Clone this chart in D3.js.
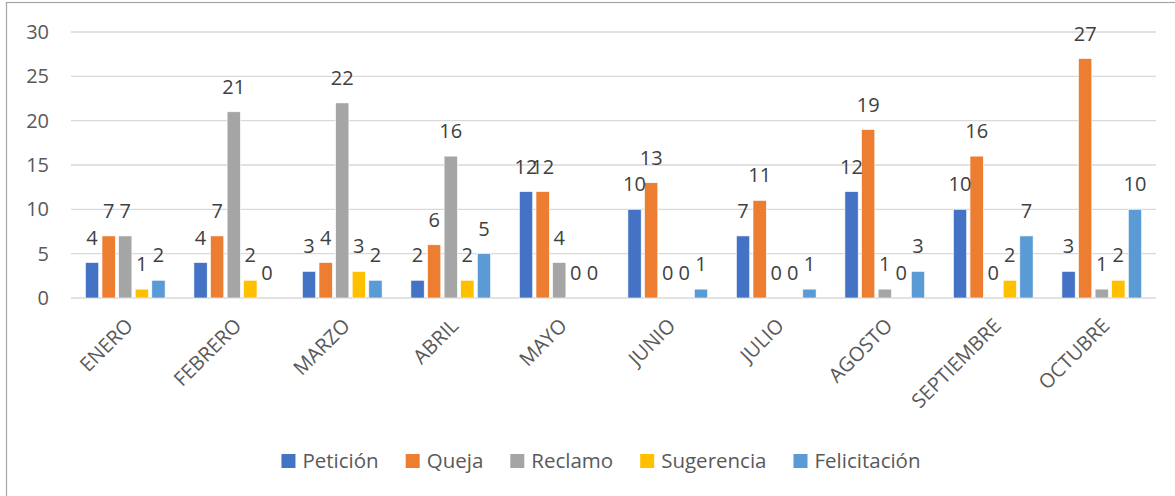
<!DOCTYPE html>
<html>
<head>
<meta charset="utf-8">
<script src="https://cdn.jsdelivr.net/npm/d3@7/dist/d3.min.js"></script>
<style>
  body { margin: 0; background: #fff; }
  svg { display: block; font-family: "Open Sans", sans-serif; }
</style>
</head>
<body>
<div id="chart"></div>
<script>
var months = ['ENERO', 'FEBRERO', 'MARZO', 'ABRIL', 'MAYO', 'JUNIO', 'JULIO', 'AGOSTO', 'SEPTIEMBRE', 'OCTUBRE'];
var seriesNames = ['Petición', 'Queja', 'Reclamo', 'Sugerencia', 'Felicitación'];
var seriesColors = ['#4472C4', '#ED7D31', '#A5A5A5', '#FFC000', '#5B9BD5'];

var peticion = [4, 4, 3, 2, 12, 10, 7, 12, 10, 3];
var queja = [7, 7, 4, 6, 12, 13, 11, 19, 16, 27];
var reclamo = [7, 21, 22, 16, 4, 0, 0, 1, 0, 1];
var sugerencia = [1, 2, 3, 2, 0, 0, 0, 0, 2, 2];
var felicitacion = [2, 0, 2, 5, 0, 1, 1, 3, 7, 10];

var yTicks = [0, 5, 10, 15, 20, 25, 30];

var width = 1175, height = 496;
var plot = { left: 71, right: 1156, top: 32, bottom: 298 };

var allSeries = [peticion, queja, reclamo, sugerencia, felicitacion];

// table of rows per month
var rows = months.map(function (m, i) {
  return {
    month: m,
    values: seriesNames.map(function (s, j) {
      return { key: s, color: seriesColors[j], value: allSeries[j][i] };
    })
  };
});

var svg = d3.select('#chart')
  .append('svg')
  .attr('width', width)
  .attr('height', height);

// chart border
svg.append('rect')
  .attr('x', 6.5)
  .attr('y', 2.5)
  .attr('width', width + 20)
  .attr('height', height + 20)
  .attr('fill', 'none')
  .attr('stroke', '#a6a6a6')
  .attr('stroke-width', 1.2);

var x0 = d3.scaleBand()
  .domain(months)
  .range([plot.left, plot.right])
  .paddingInner(0.235)
  .paddingOuter(0.1175);

var x1 = d3.scaleBand()
  .domain(seriesNames)
  .range([0, x0.bandwidth()])
  .paddingInner(0.2)
  .paddingOuter(0.1);

var y = d3.scaleLinear()
  .domain([0, 30])
  .range([plot.bottom, plot.top]);

// gridlines
svg.append('g')
  .selectAll('line')
  .data(yTicks)
  .enter()
  .append('line')
  .attr('x1', plot.left)
  .attr('x2', plot.right)
  .attr('y1', function (d) { return y(d); })
  .attr('y2', function (d) { return y(d); })
  .attr('stroke', '#d9d9d9')
  .attr('stroke-width', 1.3);

// y axis labels
var yAxis = svg.append('g')
  .attr('transform', 'translate(49,0)')
  .call(d3.axisLeft(y).tickValues(yTicks).tickSize(0).tickPadding(0));
yAxis.select('.domain').remove();
yAxis.selectAll('text')
  .attr('fill', '#595959')
  .style('font-size', '20px')
  .style('font-family', '"Open Sans", sans-serif');

// bars
var groups = svg.append('g')
  .selectAll('g')
  .data(rows)
  .enter()
  .append('g')
  .attr('transform', function (d) { return 'translate(' + x0(d.month) + ',0)'; });

groups.selectAll('rect')
  .data(function (d) { return d.values; })
  .enter()
  .append('rect')
  .attr('x', function (d) { return x1(d.key); })
  .attr('y', function (d) { return y(d.value); })
  .attr('width', x1.bandwidth())
  .attr('height', function (d) { return y(0) - y(d.value); })
  .attr('fill', function (d) { return d.color; })
  .attr('stroke', '#ffffff')
  .attr('stroke-width', 0.6);

// data labels
groups.selectAll('text')
  .data(function (d) { return d.values; })
  .enter()
  .append('text')
  .attr('x', function (d) { return x1(d.key) + x1.bandwidth() / 2; })
  .attr('y', function (d) { return y(d.value) - 18; })
  .attr('text-anchor', 'middle')
  .attr('fill', '#404040')
  .style('font-size', '20px')
  .text(function (d) { return d.value; });

// category labels
var xAxis = svg.append('g')
  .attr('transform', 'translate(0,' + plot.bottom + ')')
  .call(d3.axisBottom(x0).tickSize(0).tickPadding(0));
xAxis.select('.domain').remove();
xAxis.selectAll('text')
  .attr('fill', '#595959')
  .style('font-size', '20px')
  .style('font-family', '"Open Sans", sans-serif')
  .attr('text-anchor', 'end')
  .attr('dy', '0')
  .attr('transform', 'translate(9,29) rotate(-45)');

// legend
var legend = svg.append('g');
var items = legend.selectAll('g')
  .data(seriesNames)
  .enter()
  .append('g');

items.append('rect')
  .attr('width', 14)
  .attr('height', 14)
  .attr('y', -7)
  .attr('fill', function (d, i) { return seriesColors[i]; });

items.append('text')
  .attr('x', 21)
  .attr('dy', '0.35em')
  .attr('fill', '#595959')
  .style('font-size', '20.5px')
  .text(function (d) { return d; });

var pos = 0;
items.each(function () {
  var g = d3.select(this);
  g.attr('transform', 'translate(' + pos + ',0)');
  pos += 21 + g.select('text').node().getComputedTextLength() + 27;
});
pos -= 27;
legend.attr('transform', 'translate(' + (601 - pos / 2) + ',461)');
</script>
</body>
</html>
